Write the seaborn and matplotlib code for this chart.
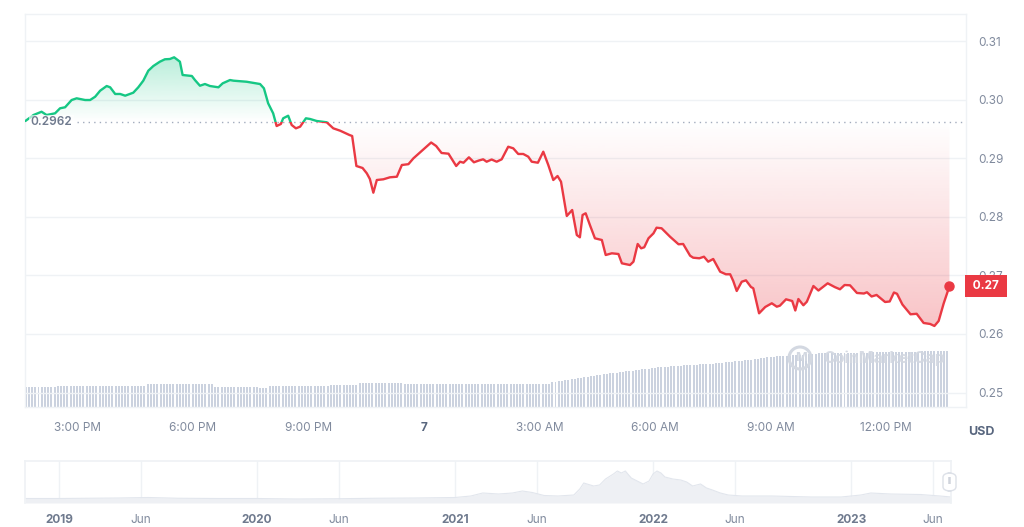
import numpy as np
import pandas as pd
import matplotlib
matplotlib.use("Agg")
import matplotlib.pyplot as plt
import matplotlib.transforms as mtransforms
from matplotlib.patches import Rectangle, FancyBboxPatch, Circle
import seaborn as sns

sns.set_theme(style="white")
plt.rcParams['font.family'] = ['Inter', 'DejaVu Sans']

# ---------------- data ----------------
# price: hours since midnight of day 6 (24 = midnight of the 7th)
time_h = [13.66, 13.87, 14.08, 14.21, 14.43, 14.56, 14.69, 14.86, 14.99, 15.21,
          15.34, 15.47, 15.60, 15.77, 15.86, 15.99, 16.12, 16.25, 16.46, 16.59,
          16.72, 16.85, 16.98, 17.15, 17.28, 17.41, 17.52, 17.67, 17.74, 17.98,
          18.06, 18.19, 18.32, 18.45, 18.67, 18.78, 18.97, 19.06, 19.40, 19.75,
          19.85, 19.96, 20.09, 20.18, 20.29, 20.35, 20.48, 20.57, 20.68, 20.79,
          20.94, 21.05, 21.22, 21.48, 21.65, 21.83, 22.07, 22.14, 22.25, 22.41,
          22.52, 22.60, 22.69, 22.78, 22.95, 23.12, 23.30, 23.43, 23.60, 23.73,
          23.95, 24.19, 24.32, 24.46, 24.64, 24.84, 24.94, 25.03, 25.17, 25.30,
          25.43, 25.54, 25.63, 25.76, 25.89, 26.02, 26.19, 26.32, 26.45, 26.58,
          26.71, 26.80, 26.96, 27.10, 27.23, 27.36, 27.47, 27.56, 27.71, 27.85,
          27.97, 28.05, 28.12, 28.20, 28.31, 28.44, 28.62, 28.72, 28.88, 29.05,
          29.14, 29.35, 29.44, 29.55, 29.64, 29.72, 29.83, 29.96, 30.04, 30.17,
          30.39, 30.61, 30.73, 30.91, 30.99, 31.15, 31.27, 31.38, 31.51, 31.69,
          31.84, 31.95, 32.03, 32.12, 32.25, 32.36, 32.49, 32.55, 32.70, 32.86,
          33.03, 33.16, 33.24, 33.40, 33.56, 33.64, 33.72, 33.85, 33.94, 34.11,
          34.24, 34.48, 34.67, 34.80, 34.92, 35.06, 35.24, 35.42, 35.50, 35.62,
          35.75, 35.97, 36.09, 36.20, 36.28, 36.42, 36.63, 36.79, 36.97, 37.14,
          37.25, 37.36, 37.49, 37.64]
price = [0.29635, 0.29737, 0.29793, 0.29737, 0.29766, 0.29852, 0.29869, 0.29993, 0.30022, 0.29993,
         0.29993, 0.30049, 0.30152, 0.30232, 0.30210, 0.30096, 0.30096, 0.30067, 0.30118, 0.30210,
         0.30323, 0.30493, 0.30573, 0.30647, 0.30688, 0.30693, 0.30722, 0.30647, 0.30420, 0.30403,
         0.30334, 0.30237, 0.30266, 0.30232, 0.30210, 0.30278, 0.30334, 0.30323, 0.30305, 0.30266,
         0.30193, 0.29937, 0.29766, 0.29549, 0.29584, 0.29681, 0.29725, 0.29567, 0.29510, 0.29538,
         0.29681, 0.29669, 0.29635, 0.29613, 0.29510, 0.29469, 0.29396, 0.29379, 0.28867, 0.28833,
         0.28742, 0.28645, 0.28411, 0.28628, 0.28640, 0.28674, 0.28684, 0.28884, 0.28898, 0.28998,
         0.29128, 0.29268, 0.29208, 0.29089, 0.29077, 0.28867, 0.28940, 0.28923, 0.29015, 0.28930,
         0.28961, 0.28981, 0.28940, 0.28978, 0.28940, 0.28981, 0.29196, 0.29169, 0.29072, 0.29072,
         0.29026, 0.28940, 0.28923, 0.29111, 0.28884, 0.28628, 0.28696, 0.28599, 0.28014, 0.28116,
         0.27689, 0.27650, 0.28031, 0.28060, 0.27860, 0.27633, 0.27604, 0.27348, 0.27377, 0.27365,
         0.27206, 0.27177, 0.27234, 0.27536, 0.27462, 0.27480, 0.27633, 0.27718, 0.27814, 0.27804,
         0.27660, 0.27531, 0.27536, 0.27336, 0.27302, 0.27292, 0.27319, 0.27234, 0.27280, 0.27063,
         0.27019, 0.27019, 0.26904, 0.26734, 0.26892, 0.26916, 0.26802, 0.26780, 0.26353, 0.26461,
         0.26524, 0.26466, 0.26483, 0.26592, 0.26563, 0.26401, 0.26597, 0.26490, 0.26551, 0.26819,
         0.26742, 0.26865, 0.26799, 0.26763, 0.26836, 0.26831, 0.26700, 0.26691, 0.26712, 0.26640,
         0.26666, 0.26546, 0.26555, 0.26708, 0.26686, 0.26503, 0.26336, 0.26345, 0.26188, 0.26171,
         0.26137, 0.26222, 0.26520, 0.26814]
baseline_price = 0.2962
last_label = "0.27"

# volume (5-minute bars, millions USD) one row per hour
volume = [
    203, 203, 203, 203, 203, 203, 203, 203, 203, 203, 213, 213,
    213, 213, 213, 213, 213, 213, 213, 213, 213, 213, 213, 213,
    213, 213, 213, 213, 213, 213, 213, 213, 213, 213, 213, 213,
    213, 213, 227, 227, 227, 227, 227, 227, 227, 227, 227, 227,
    227, 227, 227, 227, 232, 232, 232, 232, 232, 232, 232, 205,
    205, 205, 205, 205, 205, 205, 205, 205, 205, 205, 205, 205,
    205, 193, 193, 193, 210, 210, 210, 210, 210, 210, 210, 210,
    210, 210, 210, 210, 210, 210, 210, 210, 210, 210, 210, 220,
    220, 220, 220, 220, 220, 220, 220, 220, 237, 237, 237, 237,
    237, 237, 237, 237, 237, 237, 237, 237, 237, 237, 227, 227,
    227, 227, 227, 227, 227, 227, 227, 227, 227, 227, 227, 227,
    227, 227, 227, 227, 227, 227, 227, 227, 227, 227, 227, 227,
    227, 227, 227, 227, 227, 227, 227, 227, 227, 227, 227, 227,
    227, 227, 227, 227, 227, 227, 227, 235, 250, 252, 256, 262,
    268, 272, 276, 282, 288, 293, 298, 303, 308, 312, 318, 323,
    330, 333, 337, 341, 345, 349, 353, 356, 360, 364, 368, 372,
    377, 380, 384, 388, 392, 396, 400, 403, 405, 406, 408, 413,
    414, 416, 418, 420, 422, 424, 427, 428, 430, 432, 434, 437,
    440, 443, 446, 449, 453, 456, 460, 463, 466, 470, 474, 479,
    484, 489, 493, 497, 500, 503, 506, 508, 510, 512, 515, 517,
    519, 522, 524, 527, 530, 532, 535, 537, 540, 541, 543, 543,
    543, 543, 543, 543, 543, 543, 543, 543, 543, 543, 543, 546,
    546, 546, 550, 550, 550, 550, 550, 550, 550, 550, 550, 550,
    550, 550, 550, 556, 556, 563, 563, 563, 563, 563, 563, 563,
]
vol_start_h = 13.667
vol_step_h = 5 / 60

x_tick_hours = [15, 18, 21, 24, 27, 30, 33, 36]
x_tick_labels = ["3:00 PM", "6:00 PM", "9:00 PM", "7", "3:00 AM", "6:00 AM", "9:00 AM", "12:00 PM"]
y_ticks = [0.25, 0.26, 0.27, 0.28, 0.29, 0.30, 0.31]

# navigator (full history, decimal years)
nav_year = [2018.83, 2019.00, 2019.15, 2019.30, 2019.45, 2019.60, 2019.80, 2020.00, 2020.20, 2020.40,
            2020.60, 2020.80, 2021.00, 2021.08, 2021.14, 2021.22, 2021.29, 2021.34, 2021.39, 2021.45,
            2021.52, 2021.60, 2021.63, 2021.65, 2021.70, 2021.73, 2021.76, 2021.80, 2021.82, 2021.84,
            2021.86, 2021.89, 2021.92, 2021.95, 2021.98, 2022.00, 2022.02, 2022.04, 2022.06, 2022.10,
            2022.14, 2022.17, 2022.20, 2022.24, 2022.27, 2022.30, 2022.34, 2022.38, 2022.45, 2022.60,
            2022.80, 2022.95, 2023.05, 2023.10, 2023.20, 2023.35, 2023.45, 2023.505]
nav_price = [0.18, 0.18, 0.19, 0.20, 0.22, 0.19, 0.18, 0.18, 0.16, 0.17,
             0.19, 0.20, 0.22, 0.28, 0.40, 0.36, 0.40, 0.48, 0.42, 0.30,
             0.28, 0.32, 0.56, 0.80, 0.68, 0.72, 0.96, 1.16, 1.28, 1.20,
             1.28, 1.00, 0.88, 0.76, 0.88, 1.16, 1.28, 1.20, 1.04, 0.96,
             0.92, 0.84, 0.68, 0.76, 0.60, 0.52, 0.40, 0.32, 0.28, 0.28,
             0.24, 0.24, 0.32, 0.40, 0.36, 0.34, 0.28, 0.24]
nav_tick_pos = [2019, 2019.414, 2020, 2020.414, 2021, 2021.414, 2022, 2022.414, 2023, 2023.414]
nav_tick_labels = ["2019", "Jun", "2020", "Jun", "2021", "Jun", "2022", "Jun", "2023", "Jun"]

# ---------------- style ----------------
GREEN = "#16c784"
RED = "#ea3943"
GRID = "#eff2f5"
TICK = "#808a9d"
DARK = "#58667e"

W, H = 1024, 527
fig = plt.figure(figsize=(W / 100, H / 100), dpi=100)
fig.patch.set_facecolor("white")

def fpos(x0, y0, x1, y1):
    return [x0 / W, 1 - y1 / H, (x1 - x0) / W, (y1 - y0) / H]

ax = fig.add_axes(fpos(25, 14, 966, 407))
ax2 = ax.twinx()
ax.set_zorder(2)
ax2.set_zorder(1)
ax.patch.set_visible(False)

t = np.array(time_h)
p = np.array(price)
x0, x1 = 13.65, 38.07
y0, y1 = 0.24754, 0.31461

# volume bars
vol_t = vol_start_h + np.arange(len(volume)) * vol_step_h
sns.barplot(x=vol_t, y=volume, ax=ax2, native_scale=True, color="#cbd2df",
            saturation=1, width=0.62, errorbar=None, linewidth=0)
ax2.set_ylim(0, 3930)
ax2.set_yticks([])
ax2.set_xlabel("")
ax2.set_ylabel("")
for s in ax2.spines.values():
    s.set_visible(False)

# gradient fills
def gradient(poly, lo, hi, rgb, a_top, a_bot):
    n = 256
    img = np.zeros((n, 1, 4))
    img[..., 0], img[..., 1], img[..., 2] = rgb
    img[:, 0, 3] = np.linspace(a_top, a_bot, n)
    im = ax.imshow(img, extent=[x0, x1, lo, hi], aspect="auto", origin="upper",
                   zorder=1, interpolation="bilinear")
    im.set_clip_path(poly.get_paths()[0], transform=ax.transData)

green_poly = ax.fill_between(t, np.maximum(p, baseline_price), baseline_price, color="none", lw=0)
red_poly = ax.fill_between(t, np.minimum(p, baseline_price), baseline_price, color="none", lw=0)
gradient(green_poly, baseline_price, p.max(), (22 / 255, 199 / 255, 132 / 255), 0.30, 0.0)
gradient(red_poly, p.min(), baseline_price, (234 / 255, 57 / 255, 67 / 255), 0.0, 0.30)

# price line, green above baseline, red below
sns.lineplot(x=t, y=p, ax=ax, color=GREEN, lw=1.7, zorder=3)
gl = ax.lines[-1]
gl.set_clip_path(Rectangle((x0, baseline_price), x1 - x0, y1 - baseline_price, transform=ax.transData))
sns.lineplot(x=t, y=p, ax=ax, color=RED, lw=1.7, zorder=3)
rl = ax.lines[-1]
rl.set_clip_path(Rectangle((x0, y0), x1 - x0, baseline_price - y0, transform=ax.transData))
ax.plot(t[-1:], p[-1:], "o", color=RED, ms=6.5, zorder=4)

# baseline
ax.axhline(baseline_price, xmin=(77 - 25) / 941, xmax=1, color="#a3acbd", lw=1,
           ls=(0, (1, 3)), zorder=2)
blend = mtransforms.blended_transform_factory(ax.transAxes, ax.transData)
ax.text(0.006, baseline_price, f"{baseline_price}", transform=blend, va="center", ha="left",
        fontsize=8.5, color="#6f7a8e", fontweight="semibold", zorder=5,
        bbox=dict(boxstyle="square,pad=0.1", fc="white", ec="none", alpha=0.6))

# last price tag
ax.text(1.0045, p[-1], f" {last_label} ", transform=blend, va="center", ha="left",
        fontsize=8.5, color="white", fontweight="bold", zorder=6, clip_on=False,
        bbox=dict(boxstyle="square,pad=0.42", fc=RED, ec="none"))

# watermark (logo circle + wordmark)
logo = Circle((0.825, 0.125), 0.028, transform=ax.transAxes, fc="none", ec="#d3d8e1", lw=2.2, zorder=2)
logo.set_transform(mtransforms.offset_copy(ax.transAxes, fig=fig))
ax.add_artist(Circle((800, 527 - 358), 11, transform=None, fc="none", ec="#d3d8e1", lw=2.2, zorder=2))
ax.text(0.825, 0.125, "M", transform=ax.transAxes, fontsize=9, color="#d3d8e1",
        fontweight="bold", ha="center", va="center", zorder=2)
ax.text(0.848, 0.125, "CoinMarketCap", transform=ax.transAxes, fontsize=11.5,
        color="#d3d8e1", fontweight="bold", ha="left", va="center", zorder=2, alpha=0.9)

# axes setup
ax.set_xlim(x0, x1)
ax.set_ylim(y0, y1)
ax.yaxis.tick_right()
ax.set_yticks(y_ticks)
ax.set_yticklabels([f"{v:.2f}" for v in y_ticks])
ax.tick_params(axis="y", length=0, pad=9, labelsize=8.5, labelcolor=TICK)
ax.set_xticks(x_tick_hours)
ax.set_xticklabels(x_tick_labels)
ax.tick_params(axis="x", length=4, width=0.8, color="#e3e6ec", pad=7, labelsize=8.5, labelcolor=TICK)
for lab in ax.get_xticklabels():
    if lab.get_text() == "7":
        lab.set_fontweight("bold")
        lab.set_color(DARK)
ax.grid(axis="y", color=GRID, lw=1)
ax.set_axisbelow(True)
for name, s in ax.spines.items():
    s.set_visible(True)
    s.set_color(GRID)
    s.set_linewidth(1)
ax.set_xlabel("")
ax.set_ylabel("")

fig.text(968 / W, 1 - 432 / H, "USD", fontsize=9, fontweight="bold", color=DARK,
         ha="left", va="center")

# navigator
ax3 = fig.add_axes(fpos(25, 461, 951, 503))
ax3.fill_between(nav_year, nav_price, 0, color="#eef0f4", lw=0)
sns.lineplot(x=nav_year, y=nav_price, ax=ax3, color="#e2e6ed", lw=0.8)
ax3.set_xlim(2018.828, 2023.505)
ax3.set_ylim(0, 1.68)
ax3.set_yticks([])
ax3.set_xticks(nav_tick_pos)
ax3.set_xticklabels(nav_tick_labels)
ax3.tick_params(axis="x", length=0, pad=8, labelsize=8.5, labelcolor=TICK)
for lab in ax3.get_xticklabels():
    if lab.get_text() != "Jun":
        lab.set_fontweight("bold")
        lab.set_color("#6f7a8e")
ax3.grid(axis="x", color=GRID, lw=1)
ax3.set_axisbelow(True)
for name, s in ax3.spines.items():
    s.set_color(GRID)
    s.set_visible(name != "bottom")
ax3.set_xlabel("")
ax3.set_ylabel("")

# navigator handle
handle = FancyBboxPatch((943 / W, 1 - 491 / H), 13 / W, 18 / H,
                        boxstyle="round,pad=0,rounding_size=0.008",
                        transform=fig.transFigure, fc="white", ec="#dde1e8", lw=1, zorder=10)
fig.patches.append(handle)
fig.text(949.5 / W, 1 - 482 / H, "ll", fontsize=6, color="#a0a8b8", ha="center", va="center",
         zorder=11)

fig.savefig("out.png", dpi=100, facecolor="white")
